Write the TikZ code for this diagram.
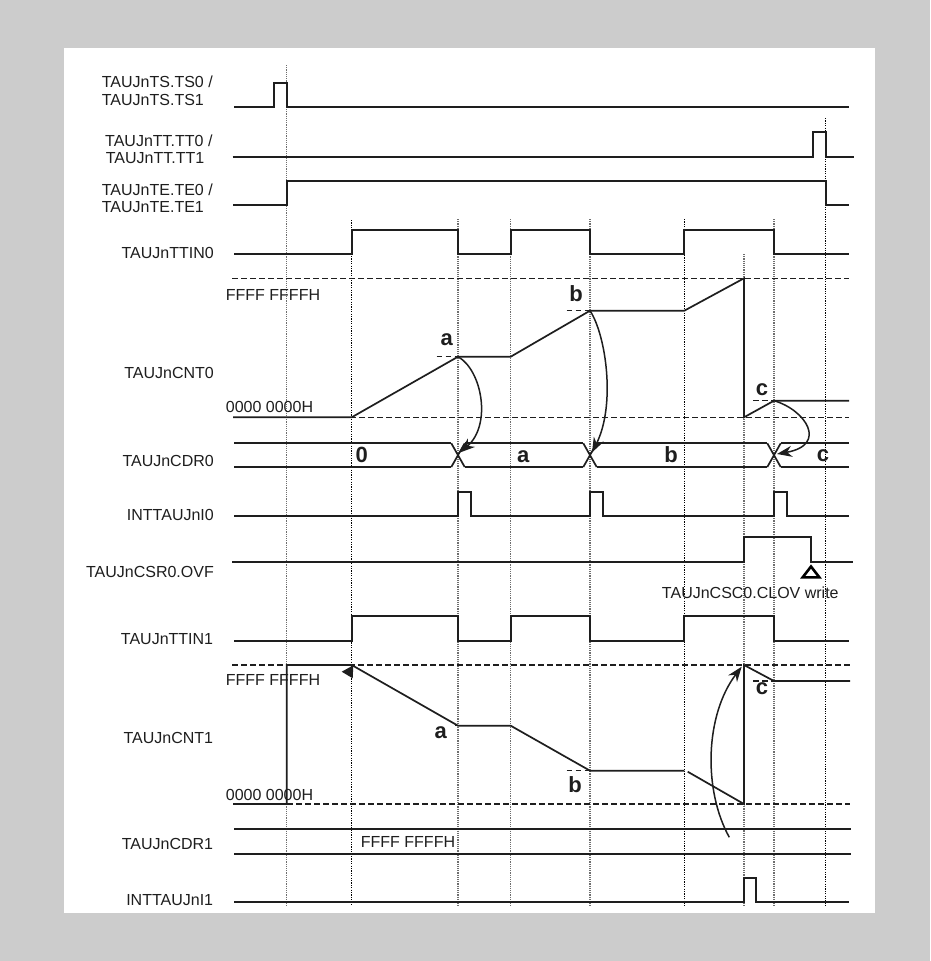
\documentclass[tikz,border=0pt]{standalone}
\usepackage{fontspec}
\setmainfont{Liberation Sans}
\usetikzlibrary{arrows.meta}
\definecolor{bggray}{RGB}{204,204,204}
\definecolor{ink}{RGB}{30,30,30}
\definecolor{dotgray}{RGB}{110,110,110}
\begin{document}
\begin{tikzpicture}[x=1pt,y=-1pt,
  sig/.style={draw=ink, line width=1.7pt},
  thr/.style={draw=ink, line width=1.5pt, dash pattern=on 5.5pt off 3.5pt},
  gridg/.style={draw=dotgray, line width=1.1pt, dash pattern=on 1.2pt off 1pt},
  gridk/.style={draw=black, line width=1pt, dash pattern=on 1.2pt off 1.2pt},
  lbl/.style={inner sep=0pt, text=ink, font=\fontsize{16}{18}\selectfont},
  big/.style={inner sep=0pt, text=ink, font=\fontsize{22}{24}\selectfont\bfseries},
  curv/.style={draw=ink, line width=1.5pt, -{Stealth[length=15pt,width=11pt]}}]
% background and panel
\fill[bggray] (0,0) rectangle (930,961);
\fill[white] (64,48) rectangle (875,913);
\useasboundingbox (0,0) rectangle (930,961);

% vertical guide lines
\draw[gridg] (286.7,65) -- (286.7,906);
\draw[gridk] (351.7,220) -- (351.7,906);
\draw[gridg] (458,219) -- (458,906);
\draw[gridg] (510.7,219) -- (510.7,906);
\draw[gridg] (590,219) -- (590,906);
\draw[gridk] (684.3,219) -- (684.3,906);
\draw[gridg] (744,254) -- (744,906);
\draw[gridg] (774,219) -- (774,906);
\draw[gridk] (825.7,118) -- (825.7,906);

% signal names
\node[lbl, anchor=west] (ts1) at (101.7,82) {TAUJnTS.TS0 /};
\node[lbl, anchor=west] (ts2) at (101.7,100) {TAUJnTS.TS1};
\node[lbl, anchor=west] (tt1) at (105,141) {TAUJnTT.TT0 /};
\node[lbl, anchor=west] (tt2) at (105.7,158) {TAUJnTT.TT1};
\node[lbl, anchor=west] (te1) at (101.7,189.7) {TAUJnTE.TE0 /};
\node[lbl, anchor=west] (te2) at (101.7,206.7) {TAUJnTE.TE1};
\node[lbl, anchor=east] (ttin0) at (214,253) {TAUJnTTIN0};
\node[lbl, anchor=east] (cnt0) at (214,373.3) {TAUJnCNT0};
\node[lbl, anchor=east] (cdr0) at (214,460.5) {TAUJnCDR0};
\node[lbl, anchor=east] (int0) at (214,514.7) {INTTAUJnI0};
\node[lbl, anchor=east] (csr0) at (214,572) {TAUJnCSR0.OVF};
\node[lbl, anchor=east] (ttin1) at (213.3,639) {TAUJnTTIN1};
\node[lbl, anchor=east] (cnt1) at (213.3,738.3) {TAUJnCNT1};
\node[lbl, anchor=east] (cdr1) at (213.3,844.3) {TAUJnCDR1};
\node[lbl, anchor=east] (int1) at (213.3,900.5) {INTTAUJnI1};

% TS
\draw[sig] (234,107.3) -- (274,107.3) -- (274,83) -- (286.7,83) -- (286.7,107.3) -- (849,107.3);
% TT
\draw[sig] (232.7,156.7) -- (812.7,156.7) -- (812.7,131.7) -- (825.7,131.7) -- (825.7,156.7) -- (854,156.7);
% TE
\draw[sig] (233,205) -- (286.7,205) -- (286.7,181) -- (825.7,181) -- (825.7,205) -- (849,205);
% TTIN0
\draw[sig] (234,254) -- (351.7,254) -- (351.7,230) -- (458,230) -- (458,254) -- (510.7,254) -- (510.7,230) -- (590,230) -- (590,254) -- (684.3,254) -- (684.3,230) -- (774,230) -- (774,254) -- (849,254);

% CNT0
\draw[thr] (232,278.3) -- (849,278.3);
\draw[thr] (233,417.3) -- (849,417.3);
\node[lbl, anchor=west] (ff0) at (225.7,294.7) {FFFF FFFFH};
\node[lbl, anchor=west] (zz0) at (225.7,406.7) {0000 0000H};
\draw[sig] (233,417.3) -- (351.7,417.3) -- (458,356.7) -- (510.7,356.7) -- (590,310.7) -- (684.3,310.7) -- (744,278.3) -- (744,417.3) -- (774,400.7) -- (849,400.7);
\draw[thr] (436.7,356.7) -- (476.7,356.7);
\draw[thr] (566.7,310.7) -- (606.7,310.7);
\draw[thr] (753,400.7) -- (795,400.7);
\node[big] (la0) at (446.7,339.7) {a};
\node[big] (lb0) at (576,293.7) {b};
\node[big] (lc0) at (762,389.8) {c};
\coordinate (pa0) at (458,356.7);
\coordinate (pb0) at (590,310.7);
\coordinate (pc0) at (774,400.7);

% CDR0 bus
\draw[sig] (234,443.3) -- (451.3,443.3) (464.7,443.3) -- (583.3,443.3) (596.7,443.3) -- (767.3,443.3) (780.7,443.3) -- (849,443.3);
\draw[sig] (234,467) -- (451.3,467) (464.7,467) -- (583.3,467) (596.7,467) -- (767.3,467) (780.7,467) -- (849,467);
\foreach \cx in {458,590,774}{
  \draw[sig] (\cx-6.7,443.3) -- (\cx+6.7,467) (\cx-6.7,467) -- (\cx+6.7,443.3);
}
\coordinate (xa) at (460,452.5);
\coordinate (xb) at (592,452.5);
\coordinate (xc) at (777,454);
\node[big] (d0) at (361.7,455) {0};
\node[big] (da) at (523.3,456.3) {a};
\node[big] (db) at (671,455) {b};
\node[big] (dc) at (823,456) {c};
\draw[curv] (pa0) .. controls (482,370) and (492,425) .. (xa);
\draw[curv] (pb0) .. controls (606,335) and (616,405) .. (xb);
\draw[curv] (pc0) .. controls (806,410) and (828,445) .. (xc);

% INT0
\draw[sig] (234,516) -- (458,516) -- (458,491.7) -- (471,491.7) -- (471,516) -- (590,516) -- (590,491.7) -- (603.3,491.7) -- (603.3,516) -- (774,516) -- (774,491.7) -- (787.3,491.7) -- (787.3,516) -- (849,516);

% CSR0.OVF
\draw[sig] (232.3,561.7) -- (744,561.7) -- (744,537.3) -- (811,537.3) -- (811,561.7) -- (853.3,561.7);
\draw[draw=black, line width=2.6pt, line join=miter] (811,566.5) -- (819.3,577.3) -- (802.7,577.3) -- cycle;
\node[lbl] (clov) at (750.3,593) {TAUJnCSC0.CLOV write};

% TTIN1
\draw[sig] (234,641) -- (351.7,641) -- (351.7,616) -- (458,616) -- (458,641) -- (510.7,641) -- (510.7,616) -- (590,616) -- (590,641) -- (684.3,641) -- (684.3,616) -- (774,616) -- (774,641) -- (849,641);

% CNT1
\draw[thr] (232.3,665) -- (850,665);
\draw[thr] (233,804) -- (850,804);
\node[lbl, anchor=west] (ff1) at (225.7,680.2) {FFFF FFFFH};
\node[lbl, anchor=west] (zz1) at (225.7,794.5) {0000 0000H};
\draw[sig] (233,804) -- (286.7,804) -- (286.7,665) -- (351.7,665) -- (458,725.7) -- (510.7,725.7) -- (590,770.7) -- (684.3,770.7);
\draw[sig] (687.7,771.7) -- (744,804) -- (744,665) -- (774,681) -- (850,681);
\fill[ink] (353.3,665.3) -- (341.7,671.7) -- (352.7,678.3) -- cycle;
\draw[thr] (455,725.7) -- (476.7,725.7);
\draw[thr] (566.7,770.7) -- (606.7,770.7);
\draw[thr] (753.3,681) -- (793.3,681);
\node[big] (la1) at (440.7,733) {a};
\node[big] (lb1) at (575,784.3) {b};
\node[big] (lc1) at (762,688.8) {c};
\coordinate (cs) at (729.3,837.3);
\coordinate (ce) at (741.7,666.7);
\draw[curv] (cs) .. controls (703,790) and (705,715) .. (ce);

% CDR1
\draw[sig] (234,829.3) -- (850.7,829.3);
\draw[sig] (234,854) -- (850.7,854);
\node[lbl, anchor=west] (fd1) at (360.7,842.2) {FFFF FFFFH};

% INT1
\draw[sig] (234,902.3) -- (744,902.3) -- (744,878.3) -- (755.7,878.3) -- (755.7,902.3) -- (849,902.3);
\end{tikzpicture}
\end{document}
